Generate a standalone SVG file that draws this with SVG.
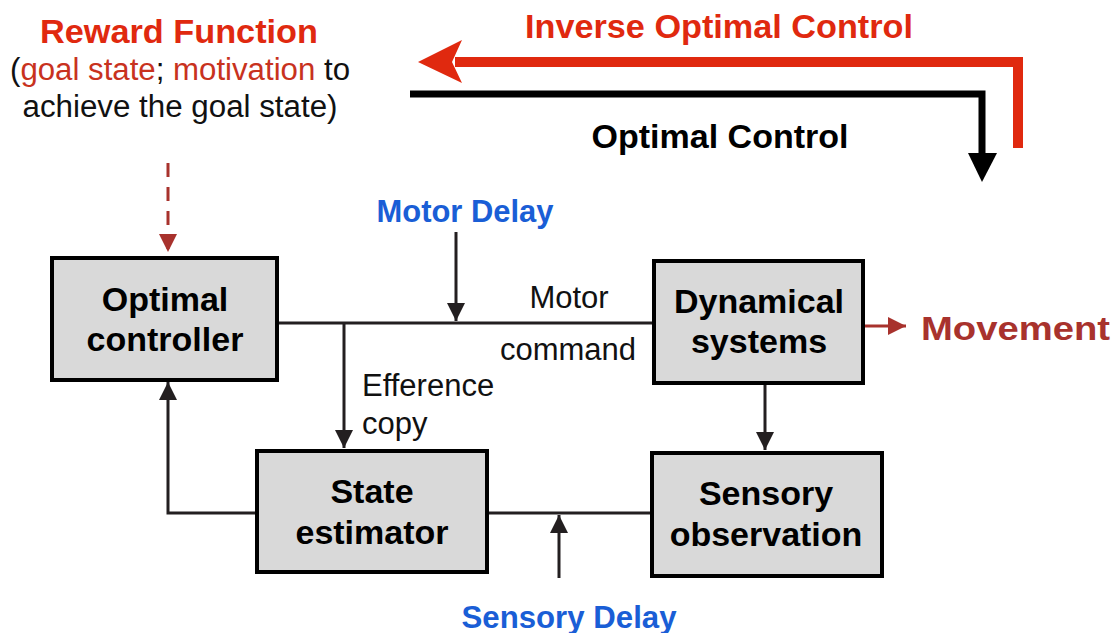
<svg xmlns="http://www.w3.org/2000/svg" width="1115" height="633" viewBox="0 0 1115 633">
<defs>
<style>
.box{fill:#d9d9d9;stroke:#000;stroke-width:4}
.nt{font-family:"Liberation Sans",Arial,sans-serif;font-weight:bold;font-size:34px;fill:#000;text-anchor:middle}
.lbl{font-family:"Liberation Sans",Arial,sans-serif;font-size:31px;fill:#111}
.blue{font-family:"Liberation Sans",Arial,sans-serif;font-weight:bold;font-size:31px;fill:#1a5ed6}
.ttl{font-family:"Liberation Sans",Arial,sans-serif;font-weight:bold;font-size:34px}
.ln{fill:none;stroke:#231f20;stroke-width:3}
</style>
<marker id="ah" viewBox="0 0 10 10" refX="10" refY="5" markerWidth="6" markerHeight="6" markerUnits="strokeWidth" orient="auto"><path d="M0,0 L10,5 L0,10 z" fill="#231f20"/></marker>
<marker id="ahr" viewBox="0 0 10 10" refX="10" refY="5" markerWidth="6" markerHeight="6" markerUnits="strokeWidth" orient="auto"><path d="M0,0 L10,5 L0,10 z" fill="#a8322d"/></marker>
</defs>
<rect width="1115" height="633" fill="#fff"/>

<g id="titles">
<text class="ttl" x="179" y="43" text-anchor="middle" fill="#e0290f" textLength="278" lengthAdjust="spacingAndGlyphs">Reward Function</text>
<text class="lbl" x="180" y="80" text-anchor="middle" textLength="340" lengthAdjust="spacingAndGlyphs">(<tspan fill="#c8321e">goal state</tspan>; <tspan fill="#c8321e">motivation</tspan> to</text>
<text class="lbl" x="180" y="117" text-anchor="middle" textLength="315" lengthAdjust="spacingAndGlyphs">achieve the goal state)</text>
<text class="ttl" x="719" y="38" text-anchor="middle" fill="#e0290f" textLength="388" lengthAdjust="spacingAndGlyphs">Inverse Optimal Control</text>
<text class="ttl" x="720" y="148" text-anchor="middle" fill="#000" textLength="257" lengthAdjust="spacingAndGlyphs">Optimal Control</text>
</g>

<g id="ioc-arrows">
<path d="M1018,148 V62 H455" fill="none" stroke="#e0290f" stroke-width="10"/>
<path d="M418,62 L462,40 L452,62 L462,83 z" fill="#e0290f"/>
<path d="M410,94 H982 V156" fill="none" stroke="#000" stroke-width="7"/>
<path d="M968,153 L997,153 L982,182 z" fill="#000"/>
</g>

<g id="connectors">
<path class="ln" d="M168,163 V252" style="stroke:#a8322d" stroke-dasharray="14,10" marker-end="url(#ahr)"/>
<path class="ln" d="M277,323 H654"/>
<path class="ln" d="M344,323 V448" marker-end="url(#ah)"/>
<path class="ln" d="M456,232 V321" marker-end="url(#ah)"/>
<path class="ln" d="M765,384 V450" marker-end="url(#ah)"/>
<path class="ln" d="M863,326 H906" style="stroke:#a8322d" marker-end="url(#ahr)"/>
<path class="ln" d="M487,513 H651"/>
<path class="ln" d="M559,578 V515" marker-end="url(#ah)"/>
<path class="ln" d="M257,513 H168 V382" marker-end="url(#ah)"/>
</g>

<g id="labels">
<text class="blue" x="465" y="222" text-anchor="middle" textLength="177" lengthAdjust="spacingAndGlyphs">Motor Delay</text>
<text class="blue" x="569" y="628" text-anchor="middle" textLength="215" lengthAdjust="spacingAndGlyphs">Sensory Delay</text>
<text class="lbl" x="569" y="308" text-anchor="middle">Motor</text>
<text class="lbl" x="568" y="360" text-anchor="middle">command</text>
<text class="lbl" x="362" y="396">Efference</text>
<text class="lbl" x="362" y="434">copy</text>
<text class="ttl" x="921" y="340" fill="#a8322d" font-size="38" textLength="189" lengthAdjust="spacingAndGlyphs">Movement</text>
</g>

<g id="optimal-controller">
<rect class="box" x="52" y="258" width="225" height="122"/>
<text class="nt" x="165" y="311">Optimal</text>
<text class="nt" x="165" y="351">controller</text>
</g>
<g id="dynamical-systems">
<rect class="box" x="654" y="261" width="209" height="122"/>
<text class="nt" x="759" y="313">Dynamical</text>
<text class="nt" x="759" y="353">systems</text>
</g>
<g id="state-estimator">
<rect class="box" x="257" y="451" width="230" height="121"/>
<text class="nt" x="372" y="503">State</text>
<text class="nt" x="372" y="544">estimator</text>
</g>
<g id="sensory-observation">
<rect class="box" x="652" y="453" width="230" height="123"/>
<text class="nt" x="766" y="505">Sensory</text>
<text class="nt" x="766" y="546">observation</text>
</g>
</svg>
